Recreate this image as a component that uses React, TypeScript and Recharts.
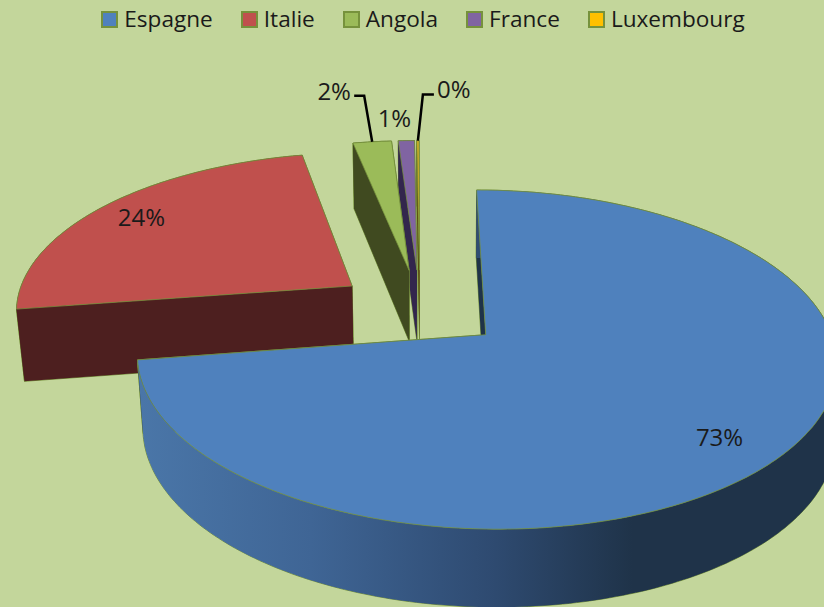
import React from 'react'
import { PieChart, Pie, Legend } from 'recharts'

const countries = ['Espagne', 'Italie', 'Angola', 'France', 'Luxembourg']
const shares = [72.6, 24.2, 2.15, 0.9, 0.12]

const topColors: Record<string, string> = {
  Espagne: '#4f81bd',
  Italie: '#c0504d',
  Angola: '#9bbb59',
  France: '#8064a2',
  Luxembourg: '#e0b020',
}
const wallColors: Record<string, string> = {
  Espagne: '#1f3349',
  Italie: '#4d1f1f',
  Angola: '#404a20',
  France: '#33264d',
  Luxembourg: '#5c4a10',
}
const legendColors: Record<string, string> = { ...topColors, Luxembourg: '#ffc000' }

const BG = '#c3d69b'
const EDGE = '#76923c'
const FONT = '"Open Sans", sans-serif'

// table is reversed: Recharts paints in data order and Espagne has to sit on top
const rows = countries.map((name, i) => ({ name, value: shares[i] })).reverse()

// fitted perspective of the tilted disc
const CX = 485
const CY = 335
const RADIUS = 346
const VANISH_X = 415
const SQUASH = 166
const TILT = 0.147
const EXPLODE = 0.25
const CENTER_U = -0.1875
const CENTER_V = 0.165

const project = (u: number, v: number, down = false) => {
  const s = 1 + TILT * v
  let x = VANISH_X + (CX - VANISH_X + RADIUS * u) / s
  let y = CY - (SQUASH * v) / s
  if (down) {
    x += (VANISH_X - x) * (x < VANISH_X ? 0.02 : 0.005)
    y += 73 - 5 * v
  }
  return [x, y]
}

const rad = (deg: number) => (deg * Math.PI) / 180

// point of a slice, r = 0 at its tip, r = 1 on the rim
const slicePoint = (mid: number, angle: number, r: number, down = false) =>
  project(
    CENTER_U + EXPLODE * Math.cos(rad(mid)) + r * Math.cos(rad(angle)),
    CENTER_V + EXPLODE * Math.sin(rad(mid)) + r * Math.sin(rad(angle)),
    down
  )

const toPath = (pts: number[][]) =>
  'M' + pts.map((p) => `${p[0].toFixed(1)},${p[1].toFixed(1)}`).join('L') + 'Z'

function Slice3D(props: any) {
  const { startAngle, endAngle, name } = props
  const mid = (startAngle + endAngle) / 2
  const steps = Math.max(2, Math.ceil(endAngle - startAngle))
  const rimTop: number[][] = []
  const rimDown: number[][] = []
  for (let i = 0; i <= steps; i++) {
    const a = startAngle + ((endAngle - startAngle) * i) / steps
    rimTop.push(slicePoint(mid, a, 1))
    rimDown.push(slicePoint(mid, a, 1, true))
  }
  const tip = slicePoint(mid, mid, 0)
  const tipDown = slicePoint(mid, mid, 0, true)
  const wall = wallColors[name]
  const side = name === 'Espagne' ? 'url(#espagneSide)' : wall
  const walls = [
    toPath([tip, rimTop[0], rimDown[0], tipDown]),
    toPath([tip, rimTop[steps], rimDown[steps], tipDown]),
  ]
  const rimSide = toPath([...rimTop, ...[...rimDown].reverse()])
  const reflex = endAngle - startAngle > 180
  return (
    <g>
      {/* outline first, the fills on top hide the inner lines */}
      {[...walls, rimSide].map((d, i) => (
        <path key={i} d={d} fill="none" stroke={EDGE} strokeWidth={1} />
      ))}
      {reflex && walls.map((d, i) => <path key={i} d={d} fill={wall} />)}
      <path d={rimSide} fill={side} />
      {!reflex && walls.map((d, i) => <path key={i} d={d} fill={wall} />)}
      <path d={toPath([tip, ...rimTop])} fill={topColors[name]} stroke={EDGE} strokeWidth={0.75} />
    </g>
  )
}

// text offsets are from the point where the label sits; small slices start from the rim
const labelSpots: Record<string, { r: number; text: number[]; leader?: number[][] }> = {
  Espagne: { r: 0.85, text: [-15, 2] },
  Italie: { r: 0.85, text: [1, 0] },
  Angola: { r: 1, text: [-38, -51], leader: [[-8, -46], [-18, -46]] },
  France: { r: 1, text: [-12, -23] },
  Luxembourg: { r: 1, text: [36, -52], leader: [[5, -46], [16, -46]] },
}

function SliceLabel(props: any) {
  const { startAngle, endAngle, name, percent } = props
  const mid = (startAngle + endAngle) / 2
  const spot = labelSpots[name]
  const [px, py] = slicePoint(mid, mid, spot.r)
  return (
    <g>
      {spot.leader && (
        <polyline
          points={[[0, 0], ...spot.leader].map((p) => `${px + p[0]},${py + p[1]}`).join(' ')}
          fill="none"
          stroke="#000"
          strokeWidth={2.5}
        />
      )}
      <text
        x={px + spot.text[0]}
        y={py + spot.text[1]}
        textAnchor="middle"
        dominantBaseline="central"
        style={{ fontFamily: FONT, fontSize: 24, fill: '#1a1a1a' }}
      >
        {`${Math.round(percent * 100)}%`}
      </text>
    </g>
  )
}

const renderLegend = () => (
  <div
    style={{
      display: 'flex',
      justifyContent: 'center',
      gap: 28,
      fontFamily: FONT,
      fontSize: 22.6,
      lineHeight: '38px',
      color: '#1a1a1a',
      paddingLeft: 22,
    }}
  >
    {countries.map((name) => (
      <span key={name} style={{ display: 'flex', alignItems: 'center', gap: 6 }}>
        <span
          style={{
            width: 13,
            height: 13,
            background: legendColors[name],
            border: `2.5px solid ${EDGE}`,
            display: 'inline-block',
          }}
        />
        {name}
      </span>
    ))}
  </div>
)

export default function App() {
  return (
    <div style={{ position: 'absolute', left: 0, top: 0, width: 824, height: 607, background: BG, overflow: 'hidden' }}>
      <PieChart width={824} height={607} margin={{ top: 0, right: 0, bottom: 0, left: 0 }}>
        <defs>
          <linearGradient id="espagneSide" gradientUnits="userSpaceOnUse" x1="140" y1="0" x2="824" y2="0">
            <stop offset="0%" stopColor="#4a76a8" />
            <stop offset="25%" stopColor="#3f6595" />
            <stop offset="52%" stopColor="#2e4a70" />
            <stop offset="72%" stopColor="#1f3349" />
            <stop offset="100%" stopColor="#1f3349" />
          </linearGradient>
        </defs>
        <Legend content={renderLegend} wrapperStyle={{ top: 0, left: 0, width: 824 }} />
        <Pie
          data={rows}
          dataKey="value"
          nameKey="name"
          cx={CX}
          cy={CY}
          outerRadius={RADIUS}
          startAngle={90}
          endAngle={450}
          stroke="none"
          shape={Slice3D}
          label={SliceLabel}
          labelLine={false}
          isAnimationActive={false}
        />
      </PieChart>
    </div>
  )
}
